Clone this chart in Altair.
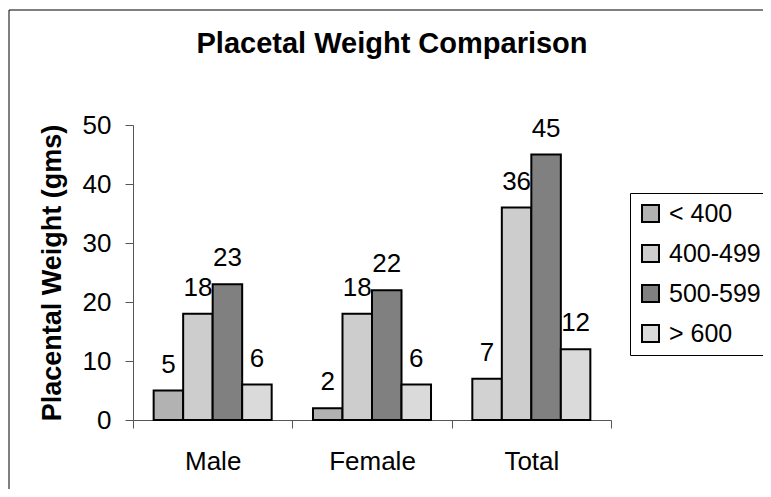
import altair as alt
import pandas as pd

groups = ["Male", "Female", "Total"]
series = ["< 400", "400-499", "500-599", "> 600"]
male = [5, 18, 23, 6]
female = [2, 18, 22, 6]
total = [7, 36, 45, 12]
colors = ["#b2b2b2", "#cdcdcd", "#808080", "#dadada"]
y_ticks = [0, 10, 20, 30, 40, 50]

rows = []
for g, vals in zip(groups, [male, female, total]):
    for s, v in zip(series, vals):
        rows.append({"group": g, "series": s, "value": v})
df = pd.DataFrame(rows)

FONT = "Liberation Sans"

base = alt.Chart(df).encode(
    x=alt.X(
        "group:N",
        sort=groups,
        scale=alt.Scale(paddingInner=0, paddingOuter=0),
        axis=alt.Axis(
            title=None, labelAngle=0, tickBand="extent", labelFontSize=26,
            labelFont=FONT, labelColor="black", tickSize=8, labelPadding=20,
            domainColor="#555555", tickColor="#555555",
        ),
    ),
    xOffset=alt.XOffset("series:N", sort=series,
                        scale=alt.Scale(paddingInner=0, paddingOuter=0.7)),
    y=alt.Y(
        "value:Q",
        scale=alt.Scale(domain=[0, 50], nice=False),
        axis=alt.Axis(
            values=y_ticks, grid=False, title="Placental Weight (gms)",
            titleFontSize=27, titleFont=FONT, titleFontWeight="bold",
            titleColor="black", labelFontSize=26, labelFont=FONT,
            labelColor="black", tickSize=8, labelPadding=14, titlePadding=16,
            domainColor="#555555", tickColor="#555555",
        ),
    ),
)

bars = base.mark_bar(stroke="black", strokeWidth=2, strokeJoin="miter").encode(
    fill=alt.condition(
        (alt.datum.group == "Total") & (alt.datum.series == "< 400"),
        alt.value("#d2d2d2"),
        alt.Fill(
            "series:N",
            sort=series,
            scale=alt.Scale(domain=series, range=colors),
            legend=alt.Legend(
                title=None, orient="none", legendX=497, legendY=68,
                labelFontSize=25, labelFont=FONT, labelColor="black",
                symbolType="square", symbolSize=289, symbolStrokeColor="black",
                symbolStrokeWidth=2, rowPadding=14, padding=8, labelOffset=6,
                strokeColor="black", fillColor="white",
            ),
        ),
    )
)

labels = base.mark_text(
    baseline="alphabetic", dy=-18, fontSize=26, font=FONT, color="black"
).encode(text="value:Q")

frame = alt.Chart(pd.DataFrame({"a": [0]})).mark_rect(
    fill="transparent", stroke="black", strokeWidth=1
).encode(
    x=alt.value(-124), x2=alt.value(800), y=alt.value(-115), y2=alt.value(500)
)

chart = alt.layer(frame, bars, labels).properties(
    width=478,
    height=295,
    background="white",
    title=alt.TitleParams(
        "Placetal Weight Comparison", fontSize=29, font=FONT,
        fontWeight="bold", color="black", offset=-72, dx=20, anchor="middle",
        baseline="alphabetic",
    ),
    padding={"left": 125, "top": 117, "right": 152, "bottom": 69},
    autosize=alt.AutoSizeParams(type="none"),
).configure_view(stroke="transparent")

chart.save("out.html", embed_options={"renderer": "svg", "actions": False})
